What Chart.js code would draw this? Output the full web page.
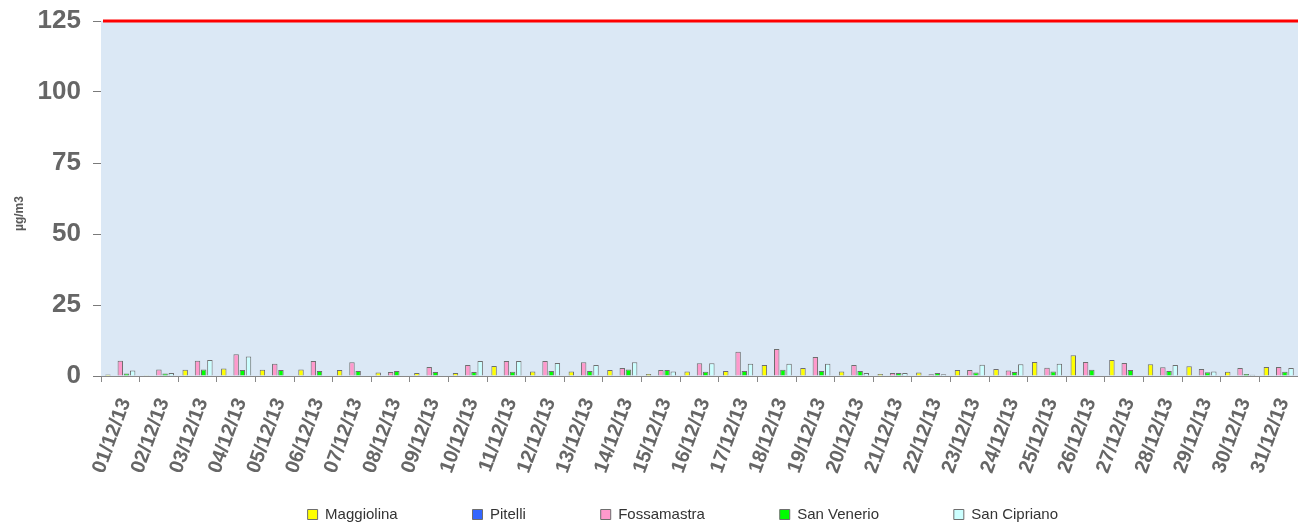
<!DOCTYPE html>
<html>
<head>
<meta charset="utf-8">
<script src="https://cdn.jsdelivr.net/npm/chart.js@4"></script>
<style>
    html, body { margin: 0; padding: 0; background: #ffffff; }
    #wrap { width: 1298px; height: 523px; }
</style>
</head>
<body>
<div id="wrap"><canvas id="chart"></canvas></div>
<script>
// giorni di dicembre 2013
const days = [
    "01/12/13", "02/12/13", "03/12/13", "04/12/13", "05/12/13", "06/12/13", "07/12/13", "08/12/13",
    "09/12/13", "10/12/13", "11/12/13", "12/12/13", "13/12/13", "14/12/13", "15/12/13", "16/12/13",
    "17/12/13", "18/12/13", "19/12/13", "20/12/13", "21/12/13", "22/12/13", "23/12/13", "24/12/13",
    "25/12/13", "26/12/13", "27/12/13", "28/12/13", "29/12/13", "30/12/13", "31/12/13"
];

const maggiolina = [
    0.5, 0.3, 2.2, 2.6, 2.2, 2.3, 2.1, 1.2, 1.1, 1.1, 3.5, 1.6, 1.6, 2.1, 0.7, 1.6,
    1.8, 3.9, 2.8, 1.6, 0.7, 1.2, 2.1, 2.5, 4.9, 7.3, 5.6, 4.1, 3.4, 1.5, 3.2
];
const pitelli = []; // nessun dato
const fossamastra = [
    5.4, 2.3, 5.4, 7.7, 4.3, 5.3, 4.8, 1.4, 3.2, 3.9, 5.3, 5.3, 4.8, 2.8, 2.1, 4.5,
    8.5, 9.5, 6.7, 3.9, 1.1, 0.6, 2.1, 1.9, 2.9, 4.9, 4.6, 3.1, 2.5, 2.8, 3.2
];
const sanVenerio = [
    0.9, 0.9, 2.3, 2.1, 2.1, 1.8, 1.8, 1.8, 1.4, 1.4, 1.5, 1.8, 1.8, 2.3, 2.1, 1.5,
    1.8, 2.2, 1.8, 1.8, 1.1, 1.1, 1.2, 1.4, 1.6, 2.2, 2.1, 1.8, 1.3, 0.7, 1.5
];
const sanCipriano = [
    1.9, 1.1, 5.6, 6.9, null, null, null, null, null, 5.3, 5.3, 4.6, 3.9, 4.8, 1.6, 4.5,
    4.3, 4.3, 4.3, 1.1, 1.1, 0.6, 4.0, 4.1, 4.3, null, null, 3.9, 1.6, 0.4, 2.8
];

const limit = 125;
const yTicks = [0, 25, 50, 75, 100, 125];

const gray = "#666666";
const font = "'Liberation Sans', Arial, sans-serif";

function serie(label, data, color) {
    return {
        label: label, data: data,
        backgroundColor: color, borderColor: "#6e6e6e", borderWidth: 1,
        categoryPercentage: 0.8, barPercentage: 0.88
    };
}

// sfondo azzurro dell'area del grafico e linea rossa del limite
const areaPlugin = {
    id: "area",
    beforeDatasetsDraw(chart) {
        const { ctx, chartArea: a } = chart;
        ctx.save();
        ctx.fillStyle = "#dbe8f5";
        ctx.fillRect(a.left, a.top, a.right - a.left, a.bottom - a.top);
        ctx.restore();
    },
    afterDatasetsDraw(chart) {
        const { ctx, chartArea: a } = chart;
        const y = chart.scales.y.getPixelForValue(limit);
        ctx.save();
        ctx.strokeStyle = "#ff0000";
        ctx.lineWidth = 3;
        ctx.beginPath();
        ctx.moveTo(a.left + 2, y);
        ctx.lineTo(a.right, y);
        ctx.stroke();
        ctx.restore();
    }
};

Chart.register({
    id: "bg",
    beforeDraw(chart) {
        const ctx = chart.ctx;
        ctx.save();
        ctx.fillStyle = "#ffffff";
        ctx.fillRect(0, 0, chart.width, chart.height);
        ctx.restore();
    }
});

const gap = "                 "; // spazio tra le voci della legenda
const tail = "        ";          // sposta la legenda a sinistra

new Chart(document.getElementById("chart").getContext("2d"), {
    type: "bar",
    data: {
        labels: days,
        datasets: [
            serie("Maggiolina", maggiolina, "#ffff00"),
            serie("Pitelli", pitelli, "#3366ff"),
            serie("Fossamastra", fossamastra, "#ff99cc"),
            serie("San Venerio", sanVenerio, "#00ff00"),
            serie("San Cipriano", sanCipriano, "#ccffff")
        ]
    },
    options: {
        responsive: true,
        maintainAspectRatio: false,
        animation: false,
        layout: { padding: { top: 21, right: 0, left: 0, bottom: -9 } },
        plugins: {
            legend: {
                position: "bottom",
                fullSize: false,
                labels: {
                    boxWidth: 10, boxHeight: 10, padding: 4,
                    color: "#333333",
                    font: { family: font, size: 15 },
                    generateLabels(chart) {
                        const items = Chart.defaults.plugins.legend.labels.generateLabels(chart);
                        items.forEach((it, i) => {
                            it.lineWidth = 1;
                            it.text = it.text + (i < items.length - 1 ? gap : tail);
                        });
                        return items;
                    }
                }
            },
            tooltip: { enabled: false }
        },
        scales: {
            x: {
                grid: { offset: true, drawOnChartArea: false, tickLength: 6, color: "#888888" },
                border: { color: "#888888" },
                ticks: {
                    minRotation: 70, maxRotation: 70, autoSkip: false,
                    color: gray, padding: 13, labelOffset: 5,
                    font: { family: font, size: 20, weight: "bold" }
                },
                afterFit(scale) {
                    scale.height = 127;
                    scale.paddingLeft = 0;
                    scale.paddingRight = 0;
                }
            },
            y: {
                min: 0, max: 125,
                afterBuildTicks(scale) { scale.ticks = yTicks.map(v => ({ value: v })); },
                grid: { color: "#7a7a7a", tickLength: 8 },
                border: { color: "#888888" },
                ticks: {
                    color: gray, padding: 12,
                    font: { family: font, size: 26, weight: "bold" }
                },
                title: {
                    display: true, text: "µg/m3         ", color: "#595959", padding: { top: 12, bottom: 0 },
                    font: { family: font, size: 12, weight: "bold" }
                },
                afterFit(scale) {
                    scale.width = 101;
                    scale.paddingTop = 0;
                    scale.paddingBottom = 0;
                }
            }
        }
    },
    plugins: [areaPlugin]
});
</script>
</body>
</html>
